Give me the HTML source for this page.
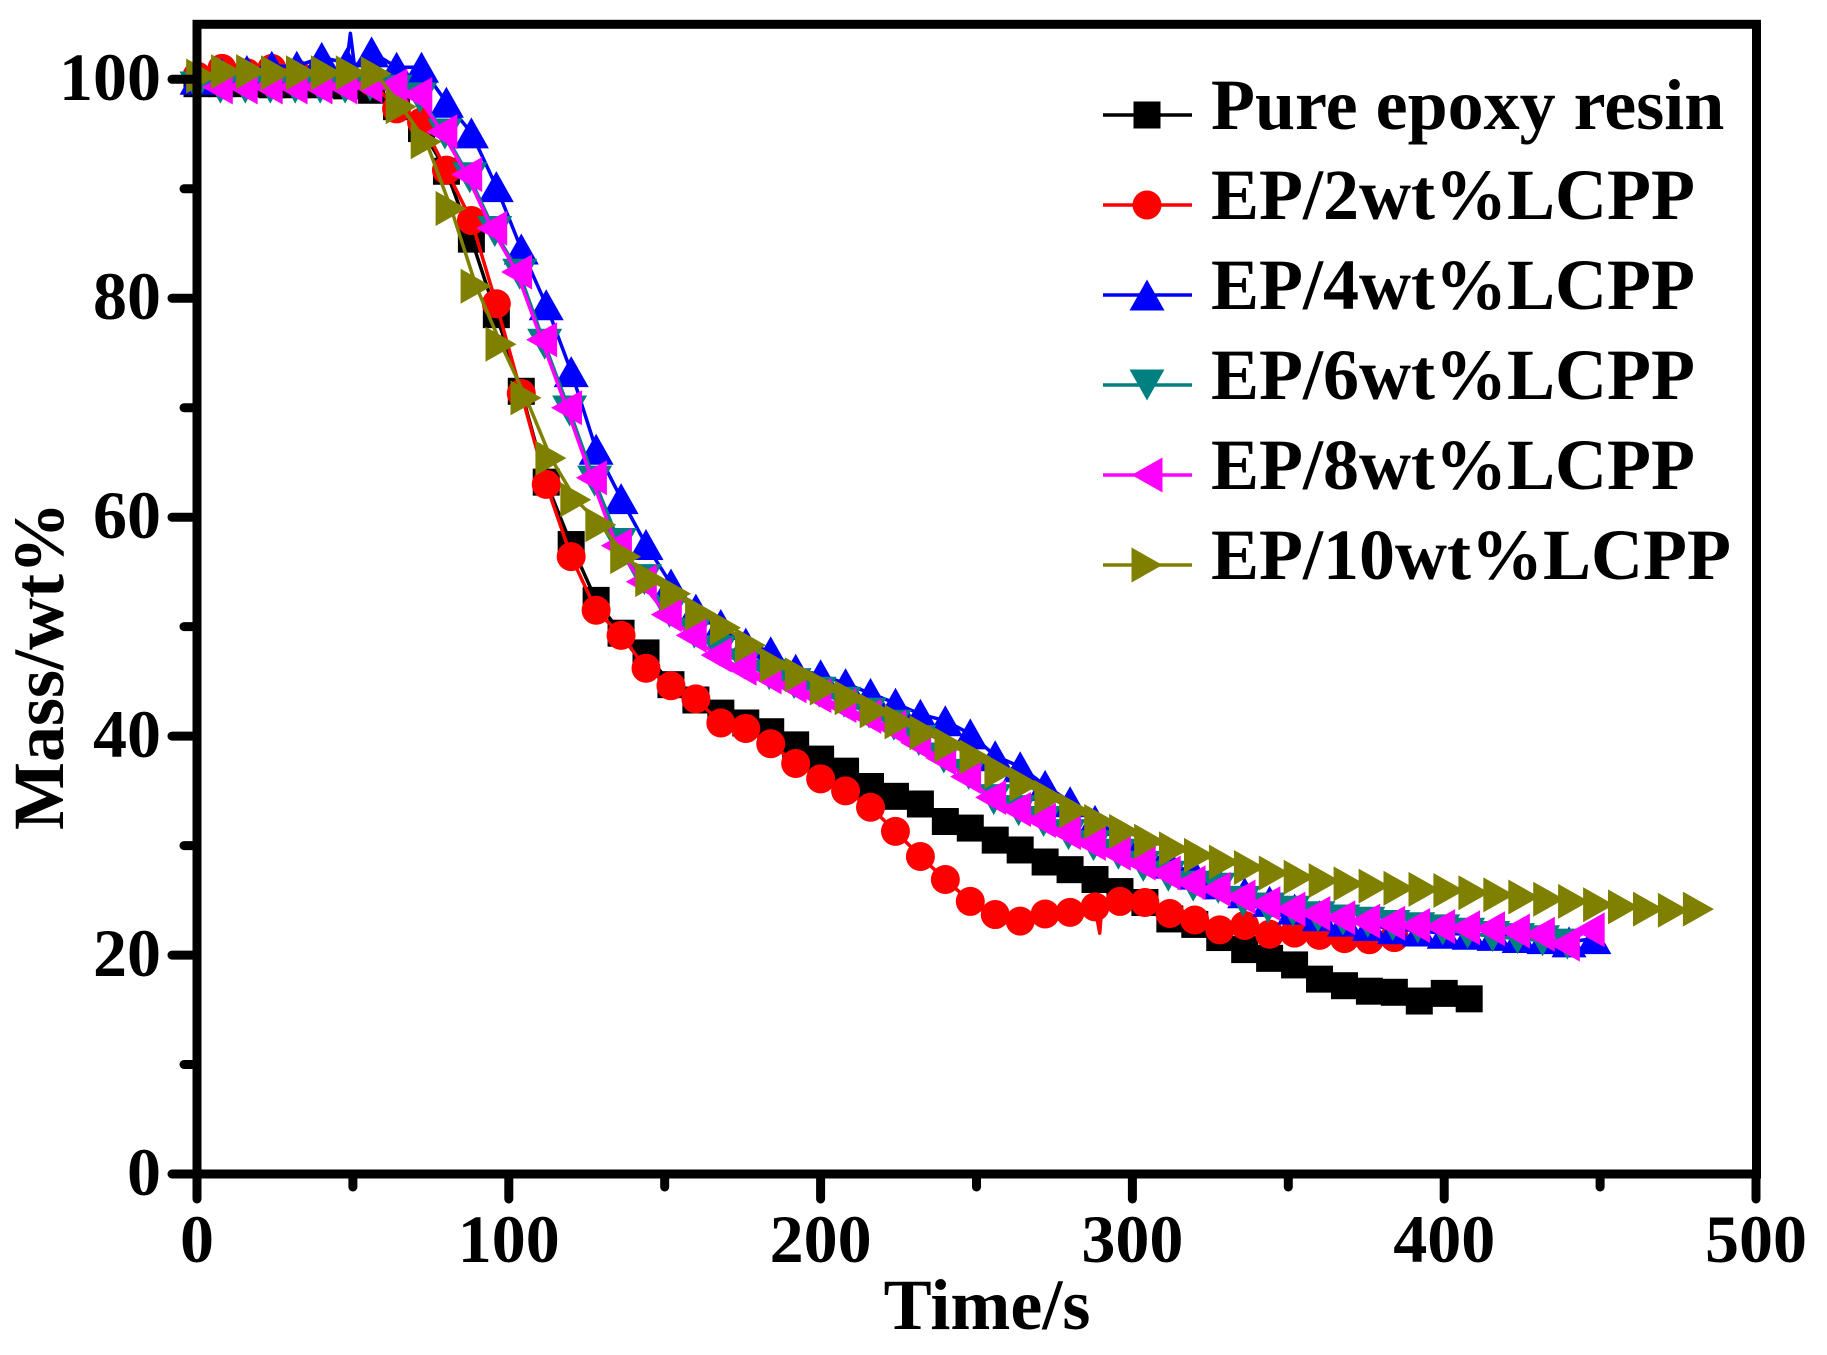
<!DOCTYPE html>
<html>
<head>
<meta charset="utf-8">
<style>
html,body{margin:0;padding:0;background:#fff;}
svg{display:block;}
text{font-family:"Liberation Serif","Times New Roman",serif;font-weight:bold;fill:#000;}
</style>
</head>
<body>
<svg id="chart" xmlns="http://www.w3.org/2000/svg" width="1827" height="1355" viewBox="0 0 1827 1355">
<rect x="0" y="0" width="1827" height="1355" fill="#fff"/>
<g id="series"></g>
<!-- frame -->
<rect x="197" y="24.3" width="1559.5" height="1149.7" fill="none" stroke="#000" stroke-width="9"/>
<!-- y ticks -->
<g stroke="#000" stroke-width="9" stroke-linecap="round">
<line x1="172" y1="1174" x2="197" y2="1174"/>
<line x1="184" y1="1064.5" x2="197" y2="1064.5"/>
<line x1="172" y1="955.1" x2="197" y2="955.1"/>
<line x1="184" y1="845.6" x2="197" y2="845.6"/>
<line x1="172" y1="736.1" x2="197" y2="736.1"/>
<line x1="184" y1="626.6" x2="197" y2="626.6"/>
<line x1="172" y1="517.2" x2="197" y2="517.2"/>
<line x1="184" y1="407.7" x2="197" y2="407.7"/>
<line x1="172" y1="298.2" x2="197" y2="298.2"/>
<line x1="184" y1="188.8" x2="197" y2="188.8"/>
<line x1="172" y1="79.3" x2="197" y2="79.3"/>
<!-- x ticks -->
<line x1="197" y1="1174" x2="197" y2="1199"/>
<line x1="352.9" y1="1174" x2="352.9" y2="1187"/>
<line x1="508.8" y1="1174" x2="508.8" y2="1199"/>
<line x1="664.7" y1="1174" x2="664.7" y2="1187"/>
<line x1="820.6" y1="1174" x2="820.6" y2="1199"/>
<line x1="976.5" y1="1174" x2="976.5" y2="1187"/>
<line x1="1132.4" y1="1174" x2="1132.4" y2="1199"/>
<line x1="1288.3" y1="1174" x2="1288.3" y2="1187"/>
<line x1="1444.2" y1="1174" x2="1444.2" y2="1199"/>
<line x1="1600.1" y1="1174" x2="1600.1" y2="1187"/>
<line x1="1756" y1="1174" x2="1756" y2="1199"/>
</g>
<!-- y tick labels -->
<g font-size="68" text-anchor="end">
<text x="161" y="1195">0</text>
<text x="161" y="976">20</text>
<text x="161" y="757">40</text>
<text x="161" y="538">60</text>
<text x="161" y="319">80</text>
<text x="161" y="100">100</text>
</g>
<!-- x tick labels -->
<g font-size="68" text-anchor="middle">
<text x="197" y="1262">0</text>
<text x="508.8" y="1262">100</text>
<text x="820.6" y="1262">200</text>
<text x="1132.4" y="1262">300</text>
<text x="1444.2" y="1262">400</text>
<text x="1756" y="1262">500</text>
</g>
<!-- axis titles -->
<text x="987" y="1329" font-size="72" text-anchor="middle">Time/s</text>
<text transform="translate(63,666) rotate(-90)" font-size="72" text-anchor="middle">Mass/wt%</text>
<!-- legend -->
<g stroke-width="3.5">
<line x1="1103" y1="115" x2="1192" y2="115" stroke="#000"/>
<line x1="1103" y1="205" x2="1192" y2="205" stroke="#ff0000"/>
<line x1="1103" y1="295" x2="1192" y2="295" stroke="#0000ff"/>
<line x1="1103" y1="385" x2="1192" y2="385" stroke="#008080"/>
<line x1="1103" y1="475" x2="1192" y2="475" stroke="#ff00ff"/>
<line x1="1103" y1="565" x2="1192" y2="565" stroke="#808000"/>
</g>
<rect x="1133.5" y="101.5" width="27" height="27" fill="#000"/>
<circle cx="1147" cy="205" r="14.5" fill="#ff0000"/>
<polygon points="1147,279.5 1129.5,310.5 1164.5,310.5" fill="#0000ff"/>
<polygon points="1147,400.5 1129.5,369.5 1164.5,369.5" fill="#008080"/>
<polygon points="1131.5,475 1162.5,457.5 1162.5,492.5" fill="#ff00ff"/>
<polygon points="1162.5,565 1131.5,547.5 1131.5,582.5" fill="#808000"/>
<g font-size="72">
<text x="1211" y="129">Pure epoxy resin</text>
<text x="1211" y="219">EP/2wt%LCPP</text>
<text x="1211" y="309">EP/4wt%LCPP</text>
<text x="1211" y="399">EP/6wt%LCPP</text>
<text x="1211" y="489">EP/8wt%LCPP</text>
<text x="1211" y="579">EP/10wt%LCPP</text>
</g>
</svg>
<script>
(function(){
var NS="http://www.w3.org/2000/svg";
function X(t){return 197+t*3.1181;}
function Y(v){return 1174-v*10.947;}
function seq(start,vals){var r=[];for(var i=0;i<vals.length;i++){r.push([start+8*i,vals[i]]);}return r;}
var black=seq(0,[99.6,99.6,99.6,99.5,99.5,99.5,99.4,99.0,97.5,95.5,91.6,85.4,78.5,71.5,63.2,57.5,52.4,49.4,47.6,44.7,43.3,42.1,41.2,40.4,39.2,37.9,36.8,35.4,34.5,33.8,32.2,31.6,30.5,29.6,28.5,27.8,26.9,25.8,24.8,23.3,22.8,21.6,20.5,19.7,19.1,17.8,17.2,16.7,16.6,15.8,16.5,16.0]);
var red=seq(0,[100.3,101.0,100.6,101.0,100.5,100.3,100.2,99.8,97.3,96.1,91.7,87.1,79.5,71.3,63.0,56.4,51.5,49.2,46.2,44.6,43.4,41.2,40.7,39.3,37.5,36.1,35.0,33.5,31.3,29.0,26.9,24.9,23.7,23.1,23.75,23.9,24.4,24.9,24.8,23.8,23.2,22.3,22.7,21.9,22.0,21.8,21.5,21.4,21.6]);
var blue=seq(0,[100.0,100.5,100.8,101.2,101.2,102.0,101.5,102.5,101.1,101.1,97.9,95.1,90.2,84.5,79.4,73.3,66.2,61.7,57.5,53.9,51.6,50.2,48.5,47.7,46.1,45.6,44.8,43.9,43.0,42.0,41.4,40.2,38.2,37.2,35.5,34.0,32.3,30.8,29.5,28.4,27.4,26.5,25.7,24.9,24.2,23.6,23.1,22.7,22.4,22.2,22.0,21.9,21.8,21.6,21.5,21.2,21.5]);
var teal=seq(-0.5,[99.3,99.2,99.2,99.2,99.2,99.2,99.2,99.4,99.0,98.3,95.0,91.0,86.1,82.2,75.8,69.7,63.3,57.6,54.3,51.3,49.4,47.8,46.6,45.6,44.8,44.0,43.1,42.1,41.0,39.6,38.0,36.5,34.2,33.2,32.2,31.0,30.0,29.2,28.1,27.2,26.3,26.1,24.9,24.3,24.0,23.5,23.2,23.0,22.7,22.5,22.3,22.0,21.7,21.5,21.3,21.0]);
teal[0][0]=0;
var mag=seq(-1.5,[99.4,99.3,99.3,99.3,99.3,99.3,99.3,99.4,99.4,98.6,95.2,91.3,86.4,82.4,76.2,70.0,63.6,57.4,54.1,51.1,49.2,47.4,46.2,45.4,44.6,43.7,42.8,41.8,40.8,39.4,38.0,36.3,34.4,33.3,32.3,31.2,30.2,29.3,28.4,27.5,26.6,26.0,25.3,24.7,24.2,23.8,23.4,23.1,22.9,22.7,22.6,22.5,22.4,22.2,21.9,21.0,22.3]);
mag.shift();
var olive=seq(1.5,[100.3,100.7,100.7,100.6,100.6,100.6,100.6,100.5,97.5,94.3,88.2,81.1,75.8,70.9,65.4,61.6,59.3,56.4,54.3,53.0,51.2,49.9,48.3,46.5,45.6,44.4,43.5,42.3,41.3,40.3,39.2,38.1,36.8,35.6,34.4,33.2,32.2,31.3,30.4,29.7,29.1,28.5,28.0,27.5,27.1,26.8,26.5,26.3,26.1,26.0,25.9,25.7,25.5,25.3,25.1,24.9,24.6,24.4,24.2,24.1,24.2]);
var g=document.getElementById("series");
function line(pts,color,extra){
  var all=pts.slice();
  if(extra){all=all.concat(extra);all.sort(function(a,b){return a[0]-b[0];});}
  var s=all.map(function(p){return X(p[0]).toFixed(1)+","+Y(p[1]).toFixed(1);}).join(" ");
  var pl=document.createElementNS(NS,"polyline");
  pl.setAttribute("points",s);pl.setAttribute("fill","none");pl.setAttribute("stroke",color);
  pl.setAttribute("stroke-width","3.5");pl.setAttribute("stroke-linejoin","round");
  g.appendChild(pl);
}
function marker(type,x,y,color){
  var el;
  if(type==="sq"){el=document.createElementNS(NS,"rect");el.setAttribute("x",x-13.5);el.setAttribute("y",y-13.5);el.setAttribute("width",27);el.setAttribute("height",27);}
  else if(type==="ci"){el=document.createElementNS(NS,"circle");el.setAttribute("cx",x);el.setAttribute("cy",y);el.setAttribute("r",14.5);}
  else{
    el=document.createElementNS(NS,"polygon");var p;
    if(type==="up")p=[[0,-15.5],[-17.5,15.5],[17.5,15.5]];
    else if(type==="dn")p=[[0,15.5],[-17.5,-15.5],[17.5,-15.5]];
    else if(type==="lt")p=[[-15.5,0],[15.5,-17.5],[15.5,17.5]];
    else p=[[15.5,0],[-15.5,-17.5],[-15.5,17.5]];
    el.setAttribute("points",p.map(function(q){return (x+q[0]).toFixed(1)+","+(y+q[1]).toFixed(1);}).join(" "));
  }
  el.setAttribute("fill",color);g.appendChild(el);
}
function series(pts,color,type,extra){
  line(pts,color,extra);
  pts.forEach(function(p){marker(type,X(p[0]),Y(p[1]),color);});
}
series(black,"#000000","sq",[[411,15.9]]);
series(red,"#ff0000","ci",[[289.5,22.0],[290.2,24.5],[385.5,21.6]]);
series(blue,"#0000ff","up",[[49.2,104.2],[50.5,101.2]]);
series(teal,"#008080","dn");
series(mag,"#ff00ff","lt",[[448,22.3]]);
series(olive,"#808000","rt",[[484,24.2]]);
})();
</script>
</body>
</html>
